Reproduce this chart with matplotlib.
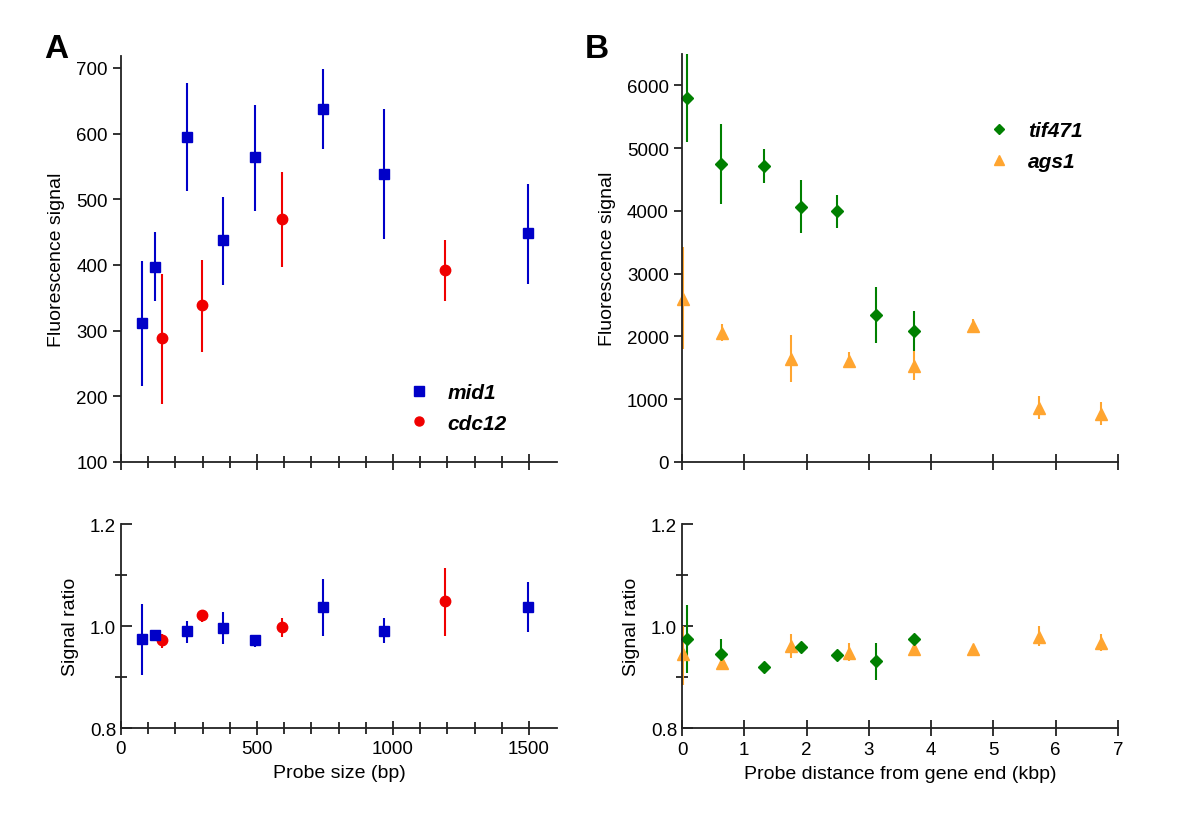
import matplotlib
matplotlib.use("Agg")
import matplotlib.pyplot as plt
import numpy as np

plt.rcParams['font.family'] = ['Liberation Sans', 'DejaVu Sans']

# ---------------- Data ----------------
# Panel A (probe size, bp)
mid1_x = [76, 125, 243, 375, 494, 743, 968, 1497]
mid1_sig = [311, 397, 595, 438, 564, 638, 539, 448]
mid1_sig_hi = [406, 450, 677, 504, 644, 698, 637, 523]
mid1_sig_lo = [215, 345, 512, 370, 482, 576, 439, 371]
mid1_ratio = [0.975, 0.982, 0.990, 0.997, 0.972, 1.037, 0.991, 1.038]
mid1_ratio_hi = [1.043, 0.986, 1.010, 1.027, 0.978, 1.092, 1.016, 1.087]
mid1_ratio_lo = [0.904, 0.978, 0.967, 0.965, 0.959, 0.980, 0.967, 0.988]

cdc12_x = [151, 299, 592, 1191]
cdc12_sig = [289, 339, 470, 392]
cdc12_sig_hi = [386, 408, 541, 438]
cdc12_sig_lo = [188, 267, 397, 345]
cdc12_ratio = [0.973, 1.021, 0.999, 1.050]
cdc12_ratio_hi = [0.984, 1.028, 1.016, 1.114]
cdc12_ratio_lo = [0.956, 1.007, 0.979, 0.981]

# Panel B (probe distance from gene end, kbp)
tif_x = [0.08, 0.62, 1.32, 1.91, 2.49, 3.11, 3.72]
tif_sig = [5800, 4754, 4717, 4065, 3996, 2337, 2088]
tif_sig_hi = [6495, 5390, 4982, 4494, 4256, 2782, 2411]
tif_sig_lo = [5104, 4118, 4447, 3652, 3731, 1892, 1765]
tif_ratio = [0.975, 0.946, 0.920, 0.959, 0.943, 0.931, 0.975]
tif_ratio_hi = [1.041, 0.975, 0.923, 0.962, 0.946, 0.967, 0.978]
tif_ratio_lo = [0.908, 0.920, 0.917, 0.956, 0.940, 0.895, 0.972]

ags_x = [0.01, 0.64, 1.75, 2.68, 3.73, 4.67, 5.73, 6.73]
ags_sig = [2597, 2056, 1643, 1616, 1537, 2173, 864, 758]
ags_sig_hi = [3418, 2199, 2025, 1760, 1765, 2279, 1044, 954]
ags_sig_lo = [1800, 1924, 1272, 1495, 1309, 2067, 689, 583]
ags_ratio = [0.946, 0.928, 0.960, 0.948, 0.954, 0.954, 0.978, 0.966]
ags_ratio_hi = [1.000, 0.936, 0.984, 0.966, 0.960, 0.958, 1.000, 0.984]
ags_ratio_lo = [0.885, 0.920, 0.938, 0.931, 0.948, 0.950, 0.961, 0.951]

BLUE = '#0000C8'
RED = '#F00000'
GREEN = '#008000'
ORANGE = '#FFA530'

W, H = 1200, 828
fig = plt.figure(figsize=(W / 100, H / 100), dpi=100)


def px_axes(x0, y0, x1, y1):
    return fig.add_axes([x0 / W, 1 - y1 / H, (x1 - x0) / W, (y1 - y0) / H])


axA1 = px_axes(121, 57, 557, 463)
axA2 = px_axes(121, 525, 557, 729)
axB1 = px_axes(682, 55, 1118, 463)
axB2 = px_axes(682, 525, 1118, 729)

TICKFS = 13.5


def style(ax):
    for s in ['top', 'right']:
        ax.spines[s].set_visible(False)
    for s in ['left', 'bottom']:
        ax.spines[s].set_linewidth(1.3)
        ax.spines[s].set_color('#222222')
    ax.tick_params(labelsize=TICKFS, width=1.3, color='#222222')


def eb(ax, x, y, lo, hi, color, marker, ms):
    y = np.asarray(y, float)
    yerr = np.vstack([y - np.asarray(lo, float), np.asarray(hi, float) - y])
    c = ax.errorbar(x, y, yerr=yerr, fmt=marker, color=color, ms=ms, elinewidth=1.5,
                    capsize=0, mec=color, mfc=color)
    for art in c.get_children():
        art.set_clip_on(False)
    return c


LEGPROP = {'size': 15, 'weight': 'bold', 'style': 'italic'}

# ---- Panel A top ----
ax = axA1
style(ax)
eb(ax, cdc12_x, cdc12_sig, cdc12_sig_lo, cdc12_sig_hi, RED, 'o', 7.5)
eb(ax, mid1_x, mid1_sig, mid1_sig_lo, mid1_sig_hi, BLUE, 's', 7.3)
ax.set_xlim(0, 1603)
ax.set_ylim(100, 718)
ax.set_yticks([100, 200, 300, 400, 500, 600, 700])
ax.set_xticks([0, 500, 1000, 1500])
ax.set_xticks(np.arange(100, 1600, 100), minor=True)
ax.tick_params(axis='x', which='major', direction='inout', length=12, labelbottom=False)
ax.tick_params(axis='x', which='minor', direction='inout', length=8, width=1.3, color='#222222')
ax.tick_params(axis='y', direction='out', length=6)
ax.set_ylabel('Fluorescence signal', fontsize=14, labelpad=8)
h1, = ax.plot([], [], 's', color=BLUE, ms=6.5)
h2, = ax.plot([], [], 'o', color=RED, ms=6.5)
ax.legend([h1, h2], ['mid1', 'cdc12'], loc='upper left', bbox_to_anchor=(0.625, 0.215),
          frameon=False, handletextpad=0.6, labelspacing=0.55, borderaxespad=0,
          handlelength=1.6, prop=LEGPROP)

# ---- Panel A bottom ----
ax = axA2
style(ax)
eb(ax, cdc12_x, cdc12_ratio, cdc12_ratio_lo, cdc12_ratio_hi, RED, 'o', 7.5)
eb(ax, mid1_x, mid1_ratio, mid1_ratio_lo, mid1_ratio_hi, BLUE, 's', 7.3)
ax.set_xlim(0, 1603)
ax.set_ylim(0.8, 1.2)
ax.set_yticks([0.8, 1.0, 1.2])
ax.set_yticklabels(['0.8', '1.0', '1.2'])
ax.set_yticks([0.9, 1.1], minor=True)
ax.set_xticks([0, 500, 1000, 1500])
ax.set_xticks(np.arange(100, 1600, 100), minor=True)
ax.tick_params(axis='x', which='major', direction='inout', length=10)
ax.tick_params(axis='x', which='minor', direction='inout', length=8, width=1.3, color='#222222')
ax.tick_params(axis='y', which='major', direction='in', length=8)
ax.tick_params(axis='y', which='minor', direction='inout', length=8, width=1.3, color='#222222')
ax.set_ylabel('Signal ratio', fontsize=14, labelpad=8)
ax.set_xlabel('Probe size (bp)', fontsize=14, labelpad=5)

# ---- Panel B top ----
ax = axB1
style(ax)
eb(ax, ags_x, ags_sig, ags_sig_lo, ags_sig_hi, ORANGE, '^', 8.5)
eb(ax, tif_x, tif_sig, tif_sig_lo, tif_sig_hi, GREEN, 'D', 6.5)
ax.set_xlim(0, 7)
ax.set_ylim(0, 6500)
ax.set_yticks([0, 1000, 2000, 3000, 4000, 5000, 6000])
ax.set_xticks(range(0, 8))
ax.tick_params(axis='x', direction='inout', length=12, labelbottom=False)
ax.tick_params(axis='y', direction='out', length=6)
ax.set_ylabel('Fluorescence signal', fontsize=14, labelpad=8)
h1, = ax.plot([], [], 'D', color=GREEN, ms=5.5)
h2, = ax.plot([], [], '^', color=ORANGE, ms=7.5)
ax.legend([h1, h2], ['tif471', 'ags1'], loc='upper left', bbox_to_anchor=(0.67, 0.855),
          frameon=False, handletextpad=0.6, labelspacing=0.55, borderaxespad=0,
          handlelength=1.6, prop=LEGPROP)

# ---- Panel B bottom ----
ax = axB2
style(ax)
eb(ax, ags_x, ags_ratio, ags_ratio_lo, ags_ratio_hi, ORANGE, '^', 8.5)
eb(ax, tif_x, tif_ratio, tif_ratio_lo, tif_ratio_hi, GREEN, 'D', 6.5)
ax.set_xlim(0, 7)
ax.set_ylim(0.8, 1.2)
ax.set_yticks([0.8, 1.0, 1.2])
ax.set_yticklabels(['0.8', '1.0', '1.2'])
ax.set_yticks([0.9, 1.1], minor=True)
ax.set_xticks(range(0, 8))
ax.tick_params(axis='x', direction='inout', length=12)
ax.tick_params(axis='y', which='major', direction='in', length=8)
ax.tick_params(axis='y', which='minor', direction='inout', length=8, width=1.3, color='#222222')
ax.set_ylabel('Signal ratio', fontsize=14, labelpad=8)
ax.set_xlabel('Probe distance from gene end (kbp)', fontsize=14, labelpad=5)

# Panel letters
fig.text(56 / W, 1 - 50 / H, 'A', fontsize=24, fontweight='bold', ha='center', va='center')
fig.text(597 / W, 1 - 50 / H, 'B', fontsize=24, fontweight='bold', ha='center', va='center')

fig.savefig('out.png', dpi=100)
